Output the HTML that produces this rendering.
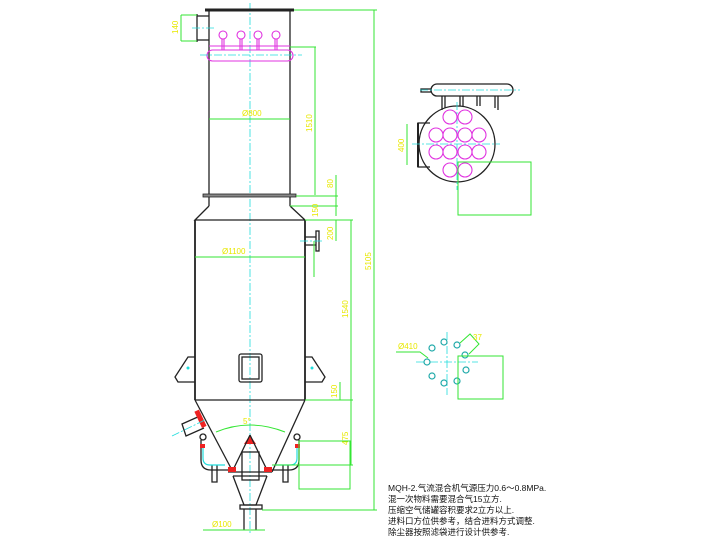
<!DOCTYPE html>
<html><head><meta charset="utf-8"><style>
html,body{margin:0;padding:0;background:#fff;width:720px;height:540px;overflow:hidden}
svg{display:block}
.k{stroke:#222;fill:none;stroke-width:1.3}
.g{stroke:#33e633;fill:none;stroke-width:1}
.c{stroke:#22dddd;fill:none;stroke-width:0.8;stroke-dasharray:8 2 2 2}
.m{stroke:#e033e0;fill:none;stroke-width:1.1}
.y{fill:#e8e800;font-family:"Liberation Sans",sans-serif;font-size:8px}
.t{font-family:"Liberation Sans","Noto Sans CJK SC",sans-serif;font-size:8.5px;fill:#111}
</style></head><body>
<svg width="720" height="540" viewBox="0 0 720 540">
<line class="c" x1="250" y1="3" x2="250" y2="535"/>
<line x1="205" y1="10" x2="294" y2="10" stroke="#222" stroke-width="3"/>
<line class="k" x1="209" y1="10" x2="209" y2="206"/>
<line class="k" x1="290" y1="10" x2="290" y2="206"/>
<line class="k" x1="197" y1="14" x2="197" y2="42"/>
<line class="k" x1="197" y1="16" x2="209" y2="16"/>
<line class="k" x1="197" y1="40" x2="209" y2="40"/>
<line class="c" x1="192" y1="28" x2="214" y2="28"/>
<line class="g" x1="181" y1="15" x2="197" y2="15"/><line class="g" x1="181" y1="41" x2="197" y2="41"/>
<line class="g" x1="181" y1="15" x2="181" y2="41"/>
<text class="y" transform="translate(178,34) rotate(-90)">140</text>
<rect class="m" x="207" y="50" width="86" height="11" rx="5.5"/>
<line class="m" x1="209" y1="46" x2="290" y2="46"/>
<line class="c" x1="200" y1="55" x2="302" y2="55"/>
<g class="m">
<circle cx="223" cy="35" r="4"/><circle cx="241" cy="35" r="4"/><circle cx="258" cy="35" r="4"/><circle cx="276" cy="35" r="4"/>
<path d="M222 39v11M224 39v11M240 39v11M242 39v11M257 39v11M259 39v11M275 39v11M277 39v11"/>
</g>
<line class="g" x1="209" y1="119" x2="290" y2="119"/>
<text class="y" x="242" y="116">Ø800</text>
<rect x="203" y="194" width="93" height="3" fill="#888" stroke="#222" stroke-width="0.8"/>
<path class="k" d="M209 206 L195 220 L305 220 L290 206"/>
<line x1="195" y1="220" x2="195" y2="400" stroke="#222" stroke-width="1.8"/>
<line x1="305" y1="220" x2="305" y2="400" stroke="#222" stroke-width="1.8"/>
<line class="k" x1="195" y1="400" x2="305" y2="400"/>
<line class="g" x1="195" y1="257" x2="305" y2="257"/>
<text class="y" x="222" y="254">Ø1100</text>
<path class="k" d="M305 237h11M305 245h11"/><rect class="k" x="316" y="231" width="3" height="20"/>
<line class="c" x1="300" y1="241" x2="322" y2="241"/>
<rect class="k" x="239" y="354" width="23" height="28" rx="2"/>
<rect class="k" x="242" y="357" width="17" height="22"/>
<path class="k" d="M195 357 L188 357 L175 377 L178 382 L195 382"/>
<path class="k" d="M305 357 L312 357 L325 377 L322 382 L305 382"/>
<circle cx="188" cy="368" r="1.5" fill="#2dd"/><circle cx="312" cy="368" r="1.5" fill="#2dd"/>
<line class="k" x1="195" y1="400" x2="233" y2="472"/>
<line class="k" x1="305" y1="400" x2="272" y2="472"/>
<path class="k" d="M200 416 L182 424 L186 436 L204 428"/>
<rect x="198" y="410" width="5" height="18" fill="#e22" transform="rotate(-25 200 419)"/>
<line class="c" x1="172" y1="436" x2="205" y2="420"/>
<path class="g" d="M216 432 Q250 418 285 432"/>
<text class="y" x="243" y="424">5°</text>
<path d="M250 435 L244 444 L256 444Z" fill="#e22"/>
<path class="k" d="M250 435 L232 472 M250 435 L268 472"/>
<rect class="k" x="242" y="452" width="17" height="28"/>
<line class="k" x1="228" y1="472" x2="272" y2="472"/>
<line class="k" x1="233" y1="476" x2="267" y2="476"/>
<path class="k" d="M233 476 L244 505 L256 505 L267 476"/>
<rect class="k" x="240" y="505" width="22" height="4"/>
<line class="k" x1="244" y1="509" x2="244" y2="530"/><line class="k" x1="256" y1="509" x2="256" y2="530"/>
<g class="k" stroke="#222">
<circle cx="203" cy="437" r="3"/><circle cx="297" cy="437" r="3"/>
<path d="M201 440v20q0 10 10 10h20M299 440v20q0 10 -10 10h-20"/>
<path d="M212 465v17h5v-17M283 465v17h5v-17"/>
</g>
<g stroke="#22dddd" fill="none" stroke-width="1.2"><path d="M203 446v12q0 7 7 7h15M297 446v12q0 7 -7 7h-15"/></g>
<rect x="200" y="444" width="5" height="4" fill="#e22"/><rect x="295" y="444" width="5" height="4" fill="#e22"/>
<rect x="228" y="467" width="8" height="5" fill="#e22"/><rect x="264" y="467" width="8" height="5" fill="#e22"/>
<line class="g" x1="294" y1="10" x2="377" y2="10"/>
<line class="g" x1="374" y1="10" x2="374" y2="510"/>
<line class="g" x1="262" y1="510" x2="377" y2="510"/>
<text class="y" transform="translate(371,270) rotate(-90)">5105</text>
<line class="g" x1="290" y1="47" x2="316" y2="47"/>
<line class="g" x1="315" y1="47" x2="315" y2="195"/>
<text class="y" transform="translate(312,132) rotate(-90)">1510</text>
<line class="g" x1="296" y1="196" x2="338" y2="196"/>
<line class="g" x1="336" y1="175" x2="336" y2="216"/>
<text class="y" transform="translate(333,188) rotate(-90)">80</text>
<line class="g" x1="290" y1="206" x2="338" y2="206"/>
<text class="y" transform="translate(318,217) rotate(-90)">150</text>
<line class="g" x1="305" y1="220" x2="353" y2="220"/>
<line class="g" x1="336" y1="220" x2="336" y2="241"/>
<text class="y" transform="translate(333,240) rotate(-90)">200</text>
<line class="g" x1="351" y1="220" x2="351" y2="465"/>
<text class="y" transform="translate(348,318) rotate(-90)">1540</text>
<line class="g" x1="314" y1="241" x2="314" y2="277"/>
<line class="g" x1="305" y1="400" x2="353" y2="400"/>
<line class="g" x1="340" y1="382" x2="340" y2="400"/>
<text class="y" transform="translate(337,398) rotate(-90)">150</text>
<text class="y" transform="translate(348,445) rotate(-90)">475</text>
<line class="g" x1="272" y1="465" x2="353" y2="465"/>
<rect class="g" x="299" y="441" width="51" height="48"/>
<line class="g" x1="203" y1="530" x2="265" y2="530"/>
<text class="y" x="212" y="527">Ø100</text>
<circle class="k" cx="457" cy="144" r="38"/>
<path class="k" d="M430 123 L418 123 L418 167 L430 167"/><line x1="418" y1="123" x2="418" y2="167" stroke="#222" stroke-width="2"/>
<line class="g" x1="407" y1="124" x2="407" y2="165"/><text class="y" transform="translate(404,152) rotate(-90)">400</text>
<rect class="k" x="431" y="84" width="82" height="12" rx="6"/>
<rect class="k" x="421" y="89" width="10" height="3"/>
<path class="k" d="M442 96v14M445 96v12M460 96v10M463 96v10M477 96v10M480 96v10M495 96v12M498 96v14"/>
<line class="c" x1="420" y1="90" x2="520" y2="90"/>
<line class="c" x1="412" y1="144" x2="500" y2="144"/>
<line class="c" x1="457" y1="102" x2="457" y2="190"/>
<g class="m">
<circle cx="450" cy="117" r="7"/><circle cx="465" cy="117" r="7"/>
<circle cx="436" cy="135" r="7"/><circle cx="450" cy="135" r="7"/><circle cx="465" cy="135" r="7"/><circle cx="479" cy="135" r="7"/>
<circle cx="436" cy="152" r="7"/><circle cx="450" cy="152" r="7"/><circle cx="465" cy="152" r="7"/><circle cx="479" cy="152" r="7"/>
<circle cx="450" cy="170" r="7"/><circle cx="465" cy="170" r="7"/>
</g>
<rect class="g" x="458" y="162" width="73" height="53"/>
<line class="c" x1="416" y1="362" x2="478" y2="362"/>
<line class="c" x1="447" y1="332" x2="447" y2="395"/>
<g fill="#fff" stroke="#22aaaa" stroke-width="1.2">
<circle cx="427" cy="362" r="3"/><circle cx="432" cy="348" r="3"/><circle cx="444" cy="342" r="3"/><circle cx="457" cy="345" r="3"/>
<circle cx="465" cy="355" r="3"/><circle cx="466" cy="370" r="3"/><circle cx="457" cy="381" r="3"/><circle cx="444" cy="383" r="3"/><circle cx="432" cy="376" r="3"/>
</g>
<path class="g" d="M396 352 L420 352 L428 358"/>
<text class="y" x="398" y="349">Ø410</text>
<path class="g" d="M460 343 L470 334 L479 344 L469 354"/>
<text class="y" x="473" y="340">37</text>
<rect class="g" x="458" y="356" width="45" height="43"/>
<text class="t" x="388" y="491">MQH-2.气流混合机气源压力0.6～0.8MPa.</text>
<text class="t" x="388" y="502">混一次物料需要混合气15立方.</text>
<text class="t" x="388" y="513">压缩空气储罐容积要求2立方以上.</text>
<text class="t" x="388" y="524">进料口方位供参考，结合进料方式调整.</text>
<text class="t" x="388" y="535">除尘器按照滤袋进行设计供参考.</text>
</svg>
</body></html>
